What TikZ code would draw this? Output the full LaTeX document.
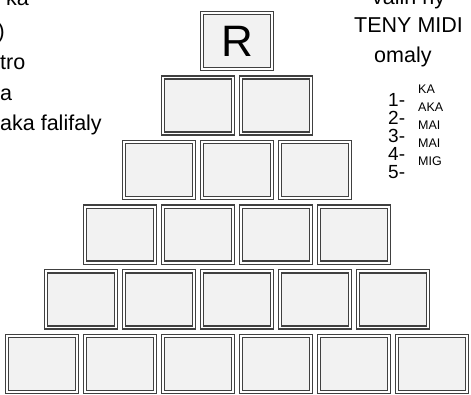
\documentclass[tikz,border=0pt]{standalone}
\usepackage{fontspec}
\setmainfont{Liberation Sans}
\begin{document}
\begin{tikzpicture}[x=1pt,y=-1pt,
    cell/.style={draw=black!75,double=white,double distance=1.8pt,line width=1.4pt,
      fill=black!5,minimum width=70pt,minimum height=56pt,inner sep=0pt},
    txt/.style={font=\fontsize{21.5}{21.5}\selectfont,inner sep=0pt,anchor=base west},
    num/.style={font=\fontsize{19}{19}\selectfont,inner sep=0pt,anchor=base west,
      text height=13.5pt,text depth=0pt},
    item/.style={font=\fontsize{12.5}{12.5}\selectfont,inner sep=0pt,anchor=base west,
      text height=9pt,text depth=0pt}]
    \useasboundingbox (0,0) rectangle (471,395);
    \clip (0,0) rectangle (471,395);
    % pyramid of cells
    \foreach \r in {1,...,6}
      \foreach \c in {1,...,\r}
        \node[cell] (b-\r-\c) at ({237+(\c-(\r+1)/2)*78}, {41+(\r-1)*64.6}) {};
    \node[font=\fontsize{44}{44}\selectfont] (letter) at (b-1-1) {R};
    % left column, cut by the frame
    \node[txt,anchor=base east] (l1) at (29, 6) {ka};
    \node[txt,anchor=base east] (l2) at (5, 39) {)};
    \node[txt] (l3) at (0, 70) {tro};
    \node[txt] (l4) at (0, 101) {a};
    \node[txt] (l5) at (0, 131) {aka falifaly};
    % right column
    \node[txt] (r1) at (372, 5) {valin ny};
    \node[txt] (r2) at (354, 33) {TENY MIDI};
    \node[txt] (r3) at (374, 63) {omaly};
    \foreach \n/\w [count=\i from 0] in {1/KA,2/AKA,3/MAI,4/MAI,5/MIG} {
      \node[num] (n\n) at (388, 107+\i*18) {\n-};
      \node[item] (w\n) at (418, 94+\i*18) {\w};
    }
\end{tikzpicture}
\end{document}
